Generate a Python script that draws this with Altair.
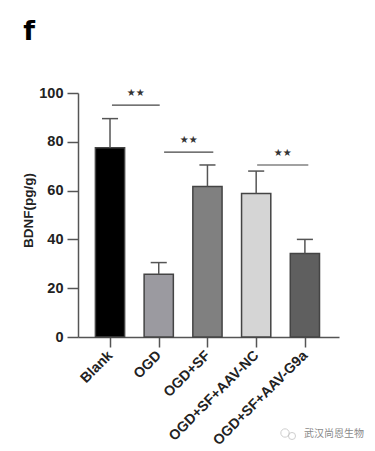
import altair as alt
import pandas as pd

categories = ["Blank", "OGD", "OGD+SF", "OGD+SF+AAV-NC", "OGD+SF+AAV-G9a"]
positions = [0, 1, 2, 3, 4]
means = [77.6, 25.7, 61.7, 58.8, 34.2]
upper = [89.5, 30.5, 70.5, 68, 40]
fills = ["#000000", "#9b9aa0", "#808080", "#d5d5d5", "#5f5f5f"]

bracket_start = [0.04, 1.11, 3.02]
bracket_end = [1.02, 2.12, 4.07]
bracket_y = [95, 75.8, 70.5]

BAR_HALF = 0.3
CAP_HALF = 0.165
FONT = "Liberation Sans"
INK = "#555555"

bars = pd.DataFrame({
    "pos": positions, "name": categories, "mean": means, "upper": upper, "fill": fills,
    "x0": [p - BAR_HALF for p in positions], "x1": [p + BAR_HALF for p in positions],
    "c0": [p - CAP_HALF for p in positions], "c1": [p + CAP_HALF for p in positions],
})
brackets = pd.DataFrame({"x0": bracket_start, "x1": bracket_end, "y": bracket_y})
brackets["mid"] = (brackets["x0"] + brackets["x1"]) / 2

label_expr = "[" + ",".join(f"'{c}'" for c in categories) + "][datum.value]"

xscale = alt.Scale(domain=[-0.657, 4.70], nice=False, zero=False)
yscale = alt.Scale(domain=[0, 100], nice=False)

x_axis = alt.Axis(values=positions, labelExpr=label_expr, labelAngle=-45, labelAlign="right",
                  labelBaseline="middle", labelFont=FONT, labelFontWeight="bold", labelFontSize=14.2,
                  labelColor="#222222", labelPadding=6, labelOverlap=False, labelBound=False,
                  labelFlush=False, title=None, grid=False, domainColor=INK, domainWidth=1.5,
                  tickColor=INK, tickWidth=1.5, tickSize=10)
y_axis = alt.Axis(values=[0, 20, 40, 60, 80, 100], labelFont=FONT, labelFontWeight="bold",
                  labelFontSize=14.5, labelColor="#222222", labelPadding=4, title="BDNF(pg/g)",
                  titleFont=FONT, titleFontWeight="bold", titleFontSize=13.5, titleColor="#222222",
                  titleX=-43, titleY=117, grid=False, domainColor=INK, domainWidth=1.5,
                  tickColor=INK, tickWidth=1.5, tickSize=11)

base = alt.Chart(bars)
bar_layer = base.mark_bar(stroke="#444444", strokeWidth=1.5).encode(
    x=alt.X("x0:Q", scale=xscale, axis=x_axis),
    x2="x1:Q",
    y=alt.Y("mean:Q", scale=yscale, axis=y_axis),
    y2=alt.datum(0),
    fill=alt.Fill("fill:N", scale=None),
)
stem = base.mark_rule(color=INK, strokeWidth=1.5).encode(
    x=alt.X("pos:Q", scale=xscale), y=alt.Y("mean:Q", scale=yscale), y2="upper:Q")
cap = base.mark_rule(color=INK, strokeWidth=1.5).encode(
    x=alt.X("c0:Q", scale=xscale), x2="c1:Q", y=alt.Y("upper:Q", scale=yscale))

b = alt.Chart(brackets)
bracket_rule = b.mark_rule(color="#444444", strokeWidth=1.2).encode(
    x=alt.X("x0:Q", scale=xscale), x2="x1:Q", y=alt.Y("y:Q", scale=yscale))
stars = b.mark_text(text="★★", font="DejaVu Sans", fontSize=10, color="#333333",
                    baseline="middle", dy=-12).encode(
    x=alt.X("mid:Q", scale=xscale), y=alt.Y("y:Q", scale=yscale))

panel = alt.Chart(pd.DataFrame({"t": ["f"]})).mark_text(
    font="DejaVu Sans", fontSize=27, fontWeight="bold", color="#000000", align="center", baseline="middle"
).encode(x=alt.value(-49), y=alt.value(-61), text="t:N")
mark_txt = alt.Chart(pd.DataFrame({"t": ["武汉尚恩生物"]})).mark_text(
    font="Noto Sans CJK SC", fontSize=10, color="#8a8a8a", align="left", baseline="middle"
).encode(x=alt.value(226), y=alt.value(341), text="t:N")
icon = alt.Chart(pd.DataFrame({"a": [207, 214], "b": [340, 343], "s": [70, 50]})).mark_point(
    shape="circle", color="#bbbbbb", strokeWidth=1, filled=False
).encode(x=alt.X("a:Q", scale=None), y=alt.Y("b:Q", scale=None), size=alt.Size("s:Q", scale=None))

chart = (bar_layer + stem + cap + bracket_rule + stars + panel + mark_txt + icon).properties(
    width=261, height=244,
    autosize=alt.AutoSizeParams(type="none"),
    padding={"left": 70, "top": 85, "right": 28, "bottom": 114},
    background="white",
).configure_view(stroke=None)

chart.save("out.html", embed_options={"renderer": "svg", "actions": False})
